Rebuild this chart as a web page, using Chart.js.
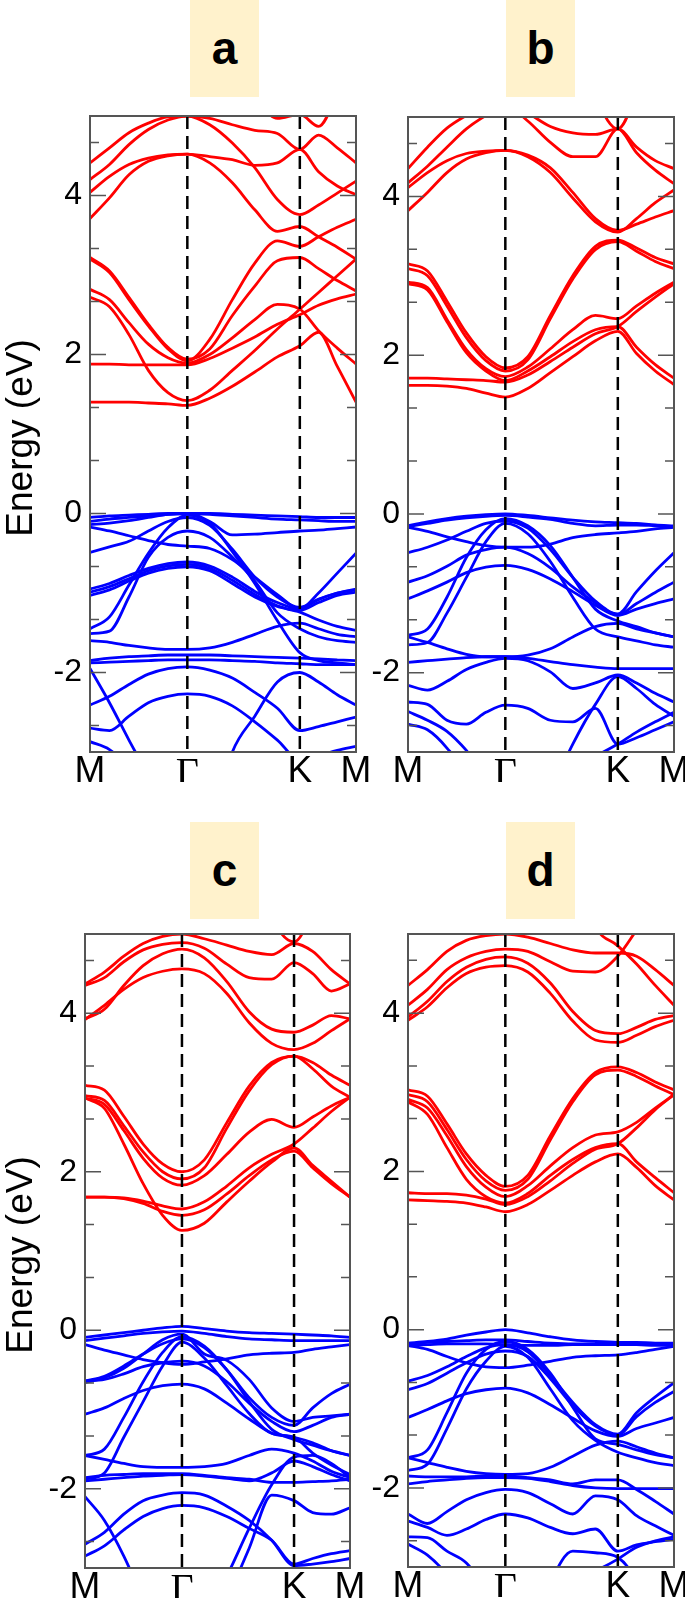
<!DOCTYPE html>
<html>
<head>
<meta charset="utf-8">
<script src="https://cdn.jsdelivr.net/npm/chart.js@4.4.1/dist/chart.umd.min.js"></script>
<style>
  body { margin: 0; background: #fff; width: 685px; height: 1604px; overflow: hidden; position: relative; }
  canvas { position: absolute; left: 0; top: 0; }
  .tag {
    position: absolute; width: 69px; height: 97px; background: #fff2cc;
    font: bold 46px "Liberation Sans", Arial, sans-serif;
    line-height: 97px; text-align: center; color: #000;
  }
</style>
</head>
<body>
<div class="tag" style="left:190px;top:0px">a</div>
<div class="tag" style="left:506px;top:0px">b</div>
<div class="tag" style="left:190px;top:822px">c</div>
<div class="tag" style="left:506px;top:822px">d</div>
<script>
// k-path M-Γ-K-M, sample points shared by every band
const kGrid = [0, 0.1155, 0.231, 0.346, 0.462, 0.577, 0.710, 0.844, 0.977, 1.111, 1.244, 1.355, 1.466, 1.577];
const kTicks = [0, 0.577, 1.244, 1.577];
const kLabels = ['M', 'Γ', 'K', 'M'];
const yLabels = [-2, 0, 2, 4];
const yMinor = [-2.667, -1.333, -0.667, 0.667, 1.333, 2.667, 3.333, 4.667];

// panel a
const condA = [
  [4.41, 4.60, 4.79, 4.91, 4.99, 5.00, 4.97, 4.89, 4.82, 4.78, 4.58, 4.76, 4.60, 4.41],
  [4.20, 4.39, 4.64, 4.83, 4.95, 5.00, 4.89, 4.66, 4.35, 3.95, 3.76, 3.88, 4.03, 4.18],
  [4.04, 4.24, 4.39, 4.47, 4.51, 4.52, 4.49, 4.45, 4.38, 4.41, 4.58, 4.30, 4.12, 4.01],
  [3.71, 3.97, 4.26, 4.43, 4.50, 4.52, 4.41, 4.16, 3.82, 3.55, 3.61, 3.48, 3.35, 3.20],
  [3.20, 3.03, 2.69, 2.36, 2.07, 1.92, 2.19, 2.69, 3.15, 3.43, 3.36, 3.48, 3.60, 3.70],
  [3.22, 3.05, 2.72, 2.38, 2.09, 1.94, 2.07, 2.49, 2.86, 3.18, 3.22, 3.08, 2.93, 2.80],
  [2.82, 2.69, 2.40, 2.13, 1.96, 1.89, 2.00, 2.21, 2.44, 2.63, 2.57, 2.30, 2.08, 1.88],
  [2.72, 2.60, 2.25, 1.80, 1.52, 1.42, 1.55, 1.80, 2.05, 2.32, 2.57, 2.78, 2.99, 3.20],
  [1.88, 1.88, 1.87, 1.87, 1.87, 1.87, 1.95, 2.08, 2.22, 2.38, 2.50, 2.62, 2.70, 2.76],
  [1.40, 1.40, 1.40, 1.39, 1.38, 1.36, 1.45, 1.60, 1.78, 1.97, 2.11, 2.28, 1.85, 1.40],
  [6, 6, 6, 6, 6, 6, 6, 6, 5.30, 4.97, 5.02, 4.87, 5.30, 6]
];
const valA = [
  [-0.05, -0.03, -0.02, -0.01, 0.00, 0.00, 0.00, -0.01, -0.02, -0.03, -0.04, -0.05, -0.05, -0.05],
  [-0.10, -0.07, -0.05, -0.03, -0.01, 0.00, -0.01, -0.03, -0.05, -0.07, -0.08, -0.09, -0.10, -0.10],
  [-0.14, -0.12, -0.09, -0.05, -0.01, 0.00, -0.10, -0.27, -0.26, -0.24, -0.22, -0.21, -0.19, -0.17],
  [-0.17, -0.22, -0.28, -0.34, -0.39, -0.41, -0.44, -0.58, -0.80, -1.02, -1.20, -1.00, -0.75, -0.50],
  [-0.49, -0.42, -0.35, -0.22, -0.10, -0.05, -0.15, -0.45, -0.80, -1.05, -1.18, -1.08, -1.00, -0.95],
  [-0.95, -0.88, -0.78, -0.69, -0.63, -0.61, -0.66, -0.80, -0.98, -1.12, -1.20, -1.08, -1.00, -0.96],
  [-0.99, -0.92, -0.82, -0.72, -0.66, -0.64, -0.69, -0.84, -1.02, -1.16, -1.22, -1.12, -1.03, -0.99],
  [-1.03, -0.96, -0.85, -0.75, -0.69, -0.67, -0.72, -0.88, -1.05, -1.17, -1.24, -1.34, -1.42, -1.47],
  [-1.45, -1.30, -0.90, -0.50, -0.18, -0.02, -0.12, -0.48, -0.88, -1.35, -1.75, -1.85, -1.88, -1.90],
  [-1.51, -1.48, -1.05, -0.55, -0.30, -0.22, -0.30, -0.55, -0.85, -1.25, -1.45, -1.55, -1.60, -1.62],
  [-1.60, -1.62, -1.66, -1.69, -1.71, -1.71, -1.69, -1.62, -1.52, -1.42, -1.38, -1.45, -1.52, -1.55],
  [-1.85, -1.82, -1.80, -1.79, -1.78, -1.78, -1.78, -1.79, -1.80, -1.81, -1.82, -1.83, -1.84, -1.85],
  [-1.88, -1.87, -1.86, -1.85, -1.84, -1.84, -1.84, -1.85, -1.86, -1.88, -1.89, -1.90, -1.90, -1.90],
  [-2.41, -2.30, -2.15, -2.02, -1.95, -1.93, -1.97, -2.07, -2.25, -2.45, -2.73, -2.68, -2.62, -2.56],
  [-2.70, -2.73, -2.55, -2.38, -2.30, -2.27, -2.30, -2.42, -2.62, -2.85, -3.10, -3.05, -2.98, -2.93],
  [-4, -4, -4, -4, -4, -4, -4, -3.00, -2.55, -2.12, -2.00, -2.12, -2.28, -2.41],
  [-1.95, -2.38, -2.85, -3.30, -3.80, -4, -4, -4, -4, -4, -4, -4, -4, -4],
  [-2.87, -2.97, -3.20, -3.60, -4, -4, -4, -4, -4, -4, -4, -4, -4, -4]
];

// panel b
const condB = [
  [4.35, 4.62, 4.86, 5.02, 5.15, 5.20, 5.05, 4.88, 4.80, 4.78, 4.85, 4.62, 4.45, 4.35],
  [4.17, 4.38, 4.62, 4.85, 5.02, 5.15, 4.95, 4.68, 4.50, 4.50, 4.85, 4.55, 4.33, 4.16],
  [4.11, 4.30, 4.45, 4.54, 4.57, 4.58, 4.52, 4.36, 4.05, 3.72, 3.57, 3.65, 3.74, 3.82],
  [3.82, 4.05, 4.30, 4.47, 4.55, 4.58, 4.50, 4.30, 3.98, 3.68, 3.55, 3.72, 3.92, 4.08],
  [3.15, 3.06, 2.68, 2.28, 1.98, 1.84, 1.98, 2.50, 3.00, 3.37, 3.45, 3.35, 3.23, 3.15],
  [3.09, 3.00, 2.62, 2.22, 1.93, 1.80, 1.94, 2.46, 2.96, 3.33, 3.43, 3.31, 3.18, 3.09],
  [2.92, 2.85, 2.45, 2.07, 1.83, 1.73, 1.85, 2.08, 2.32, 2.50, 2.46, 2.62, 2.78, 2.92],
  [2.90, 2.82, 2.42, 2.03, 1.80, 1.68, 1.80, 1.98, 2.17, 2.32, 2.36, 2.10, 1.88, 1.71],
  [1.71, 1.71, 1.70, 1.69, 1.68, 1.66, 1.75, 1.92, 2.10, 2.27, 2.36, 2.55, 2.73, 2.90],
  [1.62, 1.62, 1.61, 1.58, 1.52, 1.47, 1.58, 1.78, 1.98, 2.18, 2.30, 2.02, 1.80, 1.63],
  [6, 6, 6, 6, 6, 6, 6, 6, 6, 5.25, 4.85, 5.30, 6, 6]
];
const valB = [
  [-0.15, -0.10, -0.06, -0.03, -0.01, 0.00, -0.02, -0.05, -0.08, -0.10, -0.11, -0.12, -0.14, -0.15],
  [-0.16, -0.12, -0.08, -0.05, -0.03, -0.02, -0.04, -0.07, -0.12, -0.15, -0.14, -0.14, -0.15, -0.16],
  [-0.17, -0.22, -0.29, -0.35, -0.40, -0.42, -0.42, -0.38, -0.30, -0.26, -0.24, -0.22, -0.19, -0.17],
  [-0.49, -0.42, -0.33, -0.22, -0.12, -0.09, -0.18, -0.45, -0.80, -1.10, -1.26, -0.98, -0.72, -0.49],
  [-0.86, -0.78, -0.66, -0.52, -0.45, -0.42, -0.50, -0.68, -0.92, -1.12, -1.27, -1.13, -0.99, -0.86],
  [-1.07, -0.97, -0.86, -0.74, -0.67, -0.65, -0.70, -0.82, -0.98, -1.15, -1.28, -1.20, -1.13, -1.07],
  [-1.53, -1.45, -1.05, -0.55, -0.20, -0.06, -0.15, -0.40, -0.80, -1.20, -1.35, -1.42, -1.50, -1.55],
  [-1.65, -1.62, -1.25, -0.80, -0.35, -0.12, -0.25, -0.60, -1.05, -1.45, -1.55, -1.60, -1.65, -1.68],
  [-1.55, -1.62, -1.70, -1.77, -1.80, -1.80, -1.78, -1.70, -1.55, -1.42, -1.38, -1.45, -1.50, -1.55],
  [-1.87, -1.85, -1.83, -1.81, -1.80, -1.80, -1.82, -1.86, -1.90, -1.93, -1.95, -1.95, -1.95, -1.95],
  [-2.16, -2.22, -2.11, -1.96, -1.87, -1.82, -1.85, -1.99, -2.20, -2.13, -2.03, -2.13, -2.26, -2.37],
  [-2.37, -2.40, -2.60, -2.65, -2.50, -2.41, -2.45, -2.60, -2.62, -2.45, -2.90, -2.82, -2.72, -2.62],
  [-2.49, -2.60, -2.74, -2.98, -3.30, -3.50, -4, -4, -4, -4, -4, -4, -4, -4],
  [-2.65, -2.72, -2.95, -3.30, -4, -4, -4, -4, -4, -4, -4, -4, -4, -4],
  [-4, -4, -4, -4, -4, -4, -4, -3.50, -2.90, -2.40, -2.05, -2.20, -2.40, -2.55],
  [-4, -4, -4, -4, -4, -4, -4, -4, -3.20, -3.05, -2.90, -2.75, -2.62, -2.50]
];

// panel c
const condC = [
  [4.37, 4.52, 4.72, 4.88, 4.97, 5.00, 4.94, 4.86, 4.78, 4.74, 4.88, 4.78, 4.55, 4.37],
  [4.35, 4.45, 4.65, 4.80, 4.87, 4.89, 4.82, 4.62, 4.45, 4.43, 4.64, 4.50, 4.28, 4.37],
  [3.93, 4.05, 4.35, 4.60, 4.75, 4.81, 4.70, 4.40, 4.02, 3.80, 3.76, 3.85, 3.97, 3.93],
  [3.92, 4.10, 4.30, 4.45, 4.53, 4.56, 4.50, 4.25, 3.88, 3.62, 3.54, 3.62, 3.78, 3.93],
  [3.09, 3.03, 2.70, 2.35, 2.10, 2.00, 2.15, 2.62, 3.08, 3.38, 3.46, 3.38, 3.22, 3.09],
  [2.96, 2.90, 2.58, 2.25, 2.00, 1.91, 2.05, 2.55, 3.02, 3.35, 3.46, 3.30, 3.08, 2.94],
  [2.93, 2.85, 2.52, 2.17, 1.92, 1.83, 1.95, 2.22, 2.50, 2.66, 2.56, 2.69, 2.83, 2.94],
  [2.93, 2.80, 2.35, 1.85, 1.45, 1.26, 1.35, 1.62, 1.88, 2.12, 2.30, 2.08, 1.88, 1.68],
  [1.68, 1.68, 1.67, 1.63, 1.57, 1.53, 1.62, 1.82, 2.05, 2.22, 2.35, 2.55, 2.76, 2.94],
  [1.68, 1.68, 1.66, 1.60, 1.50, 1.45, 1.52, 1.72, 1.95, 2.15, 2.26, 2.05, 1.85, 1.68],
  [6, 6, 6, 6, 6, 6, 6, 6, 6, 5.20, 4.90, 5.30, 6, 6]
];
const valC = [
  [-0.09, -0.06, -0.03, 0.00, 0.03, 0.05, 0.02, -0.01, -0.03, -0.04, -0.05, -0.06, -0.07, -0.09],
  [-0.13, -0.10, -0.07, -0.04, -0.02, -0.01, -0.04, -0.08, -0.11, -0.12, -0.13, -0.13, -0.13, -0.13],
  [-0.18, -0.25, -0.31, -0.37, -0.41, -0.43, -0.40, -0.36, -0.31, -0.29, -0.28, -0.24, -0.21, -0.18],
  [-0.64, -0.58, -0.45, -0.30, -0.17, -0.11, -0.22, -0.50, -0.85, -1.10, -1.20, -0.98, -0.80, -0.68],
  [-0.66, -0.60, -0.48, -0.30, -0.12, -0.05, -0.30, -0.38, -0.62, -0.98, -1.15, -1.10, -1.08, -1.06],
  [-0.64, -0.62, -0.55, -0.46, -0.41, -0.39, -0.45, -0.65, -0.92, -1.15, -1.28, -1.20, -1.10, -1.06],
  [-1.06, -0.98, -0.86, -0.76, -0.70, -0.68, -0.74, -0.92, -1.12, -1.30, -1.35, -1.42, -1.52, -1.58],
  [-1.58, -1.50, -1.10, -0.65, -0.28, -0.08, -0.20, -0.50, -0.90, -1.25, -1.38, -1.45, -1.52, -1.58],
  [-1.88, -1.80, -1.35, -0.90, -0.45, -0.15, -0.35, -0.70, -1.05, -1.30, -1.35, -1.55, -1.70, -1.82],
  [-1.58, -1.63, -1.68, -1.72, -1.73, -1.73, -1.72, -1.68, -1.58, -1.50, -1.55, -1.65, -1.78, -1.86],
  [-1.86, -1.83, -1.82, -1.81, -1.81, -1.81, -1.83, -1.86, -1.88, -1.92, -1.92, -1.91, -1.90, -1.88],
  [-1.90, -1.88, -1.86, -1.84, -1.83, -1.82, -1.84, -1.87, -1.90, -1.80, -1.65, -1.72, -1.82, -1.90],
  [-4, -4, -4, -4, -4, -4, -3.60, -3.10, -2.50, -1.95, -1.60, -1.58, -1.68, -1.86],
  [-2.70, -2.55, -2.32, -2.15, -2.08, -2.05, -2.08, -2.22, -2.40, -2.65, -2.97, -2.95, -2.92, -2.88],
  [-2.85, -2.72, -2.52, -2.35, -2.25, -2.21, -2.24, -2.35, -2.50, -2.65, -2.95, -2.88, -2.82, -2.78],
  [-2.10, -2.40, -2.85, -3.40, -4, -4, -4, -4, -4, -4, -4, -4, -4, -4],
  [-4, -4, -4, -4, -4, -4, -4, -3.40, -2.75, -2.08, -2.15, -2.30, -2.32, -2.24]
];

// panel d
const condD = [
  [4.35, 4.55, 4.78, 4.92, 4.98, 5.00, 4.96, 4.88, 4.80, 4.76, 4.76, 4.72, 4.55, 4.35],
  [4.10, 4.30, 4.55, 4.70, 4.78, 4.81, 4.78, 4.65, 4.53, 4.52, 4.72, 5.05, 5.40, 6],
  [6, 6, 6, 6, 6, 6, 6, 6, 6, 5.10, 4.85, 4.62, 4.35, 4.10],
  [3.95, 4.15, 4.40, 4.58, 4.68, 4.71, 4.63, 4.38, 4.02, 3.78, 3.74, 3.82, 3.92, 3.97],
  [3.91, 4.08, 4.32, 4.50, 4.58, 4.60, 4.52, 4.25, 3.90, 3.66, 3.63, 3.72, 3.83, 3.91],
  [3.03, 2.95, 2.60, 2.22, 1.95, 1.81, 1.95, 2.45, 2.92, 3.25, 3.32, 3.25, 3.13, 3.03],
  [2.97, 2.88, 2.53, 2.15, 1.88, 1.76, 1.90, 2.40, 2.88, 3.22, 3.28, 3.20, 3.08, 2.97],
  [2.91, 2.80, 2.45, 2.06, 1.80, 1.68, 1.82, 2.07, 2.30, 2.46, 2.50, 2.62, 2.80, 2.97],
  [2.88, 2.72, 2.30, 1.90, 1.68, 1.60, 1.72, 1.95, 2.15, 2.30, 2.35, 2.12, 1.92, 1.73],
  [1.73, 1.72, 1.72, 1.70, 1.65, 1.58, 1.68, 1.88, 2.10, 2.28, 2.35, 2.55, 2.78, 2.97],
  [1.64, 1.63, 1.62, 1.60, 1.55, 1.49, 1.58, 1.76, 1.95, 2.12, 2.22, 2.05, 1.82, 1.64]
];
const valD = [
  [-0.17, -0.15, -0.12, -0.07, -0.03, 0.00, -0.04, -0.09, -0.13, -0.15, -0.16, -0.16, -0.17, -0.17],
  [-0.18, -0.16, -0.15, -0.14, -0.13, -0.13, -0.15, -0.17, -0.18, -0.18, -0.18, -0.18, -0.18, -0.18],
  [-0.20, -0.19, -0.18, -0.18, -0.18, -0.19, -0.20, -0.20, -0.19, -0.19, -0.19, -0.19, -0.20, -0.20],
  [-0.20, -0.25, -0.34, -0.42, -0.47, -0.48, -0.45, -0.40, -0.35, -0.33, -0.32, -0.29, -0.25, -0.21],
  [-0.65, -0.58, -0.47, -0.34, -0.23, -0.19, -0.28, -0.58, -0.92, -1.20, -1.32, -1.05, -0.85, -0.67],
  [-0.76, -0.68, -0.55, -0.42, -0.31, -0.27, -0.34, -0.62, -0.96, -1.22, -1.33, -1.10, -0.92, -0.78],
  [-1.11, -1.01, -0.90, -0.81, -0.76, -0.74, -0.80, -0.95, -1.12, -1.28, -1.35, -1.25, -1.18, -1.11],
  [-1.62, -1.52, -1.05, -0.55, -0.25, -0.15, -0.25, -0.55, -0.98, -1.38, -1.45, -1.52, -1.58, -1.62],
  [-1.78, -1.70, -1.25, -0.75, -0.40, -0.21, -0.35, -0.75, -1.15, -1.40, -1.55, -1.62, -1.68, -1.72],
  [-1.62, -1.68, -1.74, -1.79, -1.82, -1.83, -1.82, -1.74, -1.60, -1.46, -1.41, -1.48, -1.56, -1.62],
  [-1.95, -1.92, -1.90, -1.88, -1.87, -1.87, -1.88, -1.92, -1.97, -2.00, -2.01, -2.01, -2.01, -2.01],
  [-1.85, -1.86, -1.86, -1.86, -1.85, -1.85, -1.87, -1.90, -1.95, -1.90, -1.90, -2.02, -2.17, -2.33],
  [-2.33, -2.45, -2.30, -2.15, -2.06, -2.02, -2.06, -2.20, -2.33, -2.10, -2.15, -2.35, -2.48, -2.60],
  [-2.42, -2.50, -2.60, -2.52, -2.40, -2.33, -2.38, -2.50, -2.58, -2.52, -2.80, -2.72, -2.68, -2.65],
  [-2.62, -2.63, -2.80, -2.95, -3.30, -4, -4, -4, -4, -4, -4, -4, -4, -4],
  [-2.71, -2.85, -3.10, -3.50, -4, -4, -4, -4, -4, -4, -4, -4, -4, -4],
  [-4, -4, -4, -4, -4, -4, -4, -4, -3.20, -3.05, -2.90, -2.75, -2.67, -2.62],
  [-4, -4, -4, -4, -4, -4, -4, -3.20, -2.80, -2.82, -2.88, -3.20, -4, -4]
];

const Y_AXIS_W = 60;
const X_AXIS_H = 30;

// plot box of each panel on the page: left, top, right, bottom
const panels = [
  { cond: condA, val: valA, box: [90, 116, 356, 752], yTitle: true },
  { cond: condB, val: valB, box: [408, 117, 674, 752], yTitle: false },
  { cond: condC, val: valC, box: [85, 934, 350, 1568], yTitle: true },
  { cond: condD, val: valD, box: [408, 934, 674, 1567], yTitle: false }
];

const framePlugin = {
  id: 'frame',
  afterDatasetsDraw(chart, args, opts) {
    const { ctx, chartArea: a, scales: { x, y } } = chart;
    ctx.save();
    ctx.strokeStyle = '#000';
    ctx.lineWidth = 2.5;
    ctx.setLineDash([13, 7]);
    [kTicks[1], kTicks[2]].forEach(k => {
      const px = x.getPixelForValue(k);
      ctx.beginPath();
      ctx.moveTo(px, a.top);
      ctx.lineTo(px, a.bottom);
      ctx.stroke();
    });
    ctx.setLineDash([]);

    ctx.strokeStyle = '#555';
    ctx.lineWidth = 1.5;
    yLabels.concat(yMinor).forEach(v => {
      const py = y.getPixelForValue(v);
      const len = yLabels.includes(v) ? 16 : 9;
      ctx.beginPath();
      ctx.moveTo(a.left, py);
      ctx.lineTo(a.left + len, py);
      ctx.moveTo(a.right, py);
      ctx.lineTo(a.right - len, py);
      ctx.stroke();
    });
    ctx.lineWidth = 2;
    ctx.strokeRect(a.left, a.top, a.right - a.left, a.bottom - a.top);

    // axis title, centred on the plot box
    if (opts.yTitle) {
      ctx.fillStyle = '#000';
      ctx.font = '37px "Liberation Sans", Arial, sans-serif';
      ctx.textAlign = 'center';
      ctx.textBaseline = 'alphabetic';
      ctx.translate(32, (a.top + a.bottom) / 2 + 4);
      ctx.rotate(-Math.PI / 2);
      ctx.fillText('Energy (eV)', 0, 0);
    }
    ctx.restore();
  }
};

function toPoints(band) {
  return kGrid.map((k, i) => ({ x: k, y: band[i] }));
}

function makeDatasets(bands, color) {
  return bands.map(band => ({
    data: toPoints(band),
    borderColor: color,
    borderWidth: 2.8,
    pointRadius: 0,
    fill: false,
    cubicInterpolationMode: 'monotone'
  }));
}

function drawPanel(panel) {
  const canvas = document.createElement('canvas');
  canvas.width = 685;
  canvas.height = 1604;
  document.body.appendChild(canvas);

  const [left, top, right, bottom] = panel.box;
  new Chart(canvas, {
    type: 'line',
    data: {
      datasets: makeDatasets(panel.cond, '#ff0000').concat(makeDatasets(panel.val, '#0000ff'))
    },
    options: {
      responsive: false,
      animation: false,
      events: [],
      devicePixelRatio: 1,
      layout: {
        padding: { left: left - Y_AXIS_W, top: top, right: 685 - right, bottom: 1604 - bottom - X_AXIS_H }
      },
      plugins: {
        legend: { display: false },
        tooltip: { enabled: false },
        frame: { yTitle: panel.yTitle }
      },
      scales: {
        x: {
          type: 'linear',
          min: kTicks[0],
          max: kTicks[3],
          afterBuildTicks: s => { s.ticks = kTicks.map(v => ({ value: v })); },
          afterFit: s => { s.height = X_AXIS_H; s.paddingLeft = 0; s.paddingRight = 0; },
          grid: { display: false, drawTicks: false },
          border: { display: false },
          ticks: {
            autoSkip: false,
            maxRotation: 0,
            padding: -2,
            color: '#000',
            callback: (v, i) => kLabels[i],
            font: c => c.index === 1
              ? { family: '"Liberation Serif", "Times New Roman", serif', size: 40 }
              : { family: '"Liberation Sans", Arial, sans-serif', size: 37 }
          }
        },
        y: {
          type: 'linear',
          min: -3,
          max: 5,
          afterBuildTicks: s => { s.ticks = yLabels.map(v => ({ value: v })); },
          afterFit: s => { s.width = Y_AXIS_W; s.paddingTop = 0; s.paddingBottom = 0; },
          grid: { display: false, drawTicks: false },
          border: { display: false },
          ticks: {
            padding: 8,
            color: '#000',
            callback: v => String(v),
            font: { family: '"Liberation Sans", Arial, sans-serif', size: 32 }
          }
        }
      }
    },
    plugins: [framePlugin]
  });
}

panels.forEach(drawPanel);
</script>
</body>
</html>
